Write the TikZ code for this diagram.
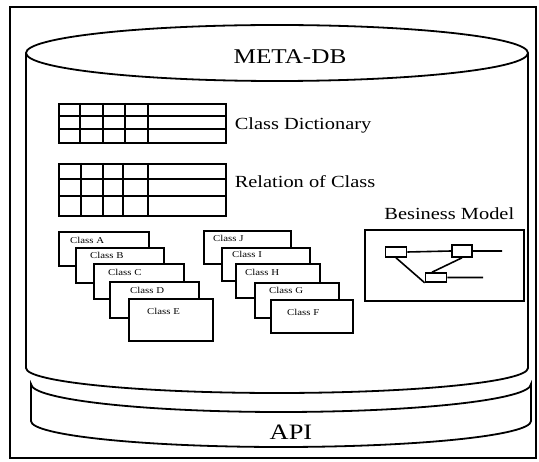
\documentclass[tikz,border=0pt]{standalone}
\usepackage{fontspec}
\setmainfont{Liberation Serif}[FakeStretch=1.2]
\usetikzlibrary{positioning}

\begin{document}
\begin{tikzpicture}[x=1pt,y=-1pt]
\tikzset{every node/.style={inner sep=0pt},
  db/.style={line width=1.8pt},
  grid/.style={draw,line width=1.6pt,minimum width=167pt,anchor=north west},
  gridline/.style={line width=1.6pt},
  classbox/.style={draw,fill=white,line width=1.6pt,anchor=north west},
  classtxt/.style={anchor=west,font=\fontsize{9}{9}\selectfont},
  bigtxt/.style={font=\fontsize{21}{21}\selectfont},
  midtxt/.style={font=\fontsize{17}{17}\selectfont},
  bmbox/.style={draw,line width=1.6pt,minimum width=21pt,minimum height=10pt}}
\useasboundingbox (0,0) rectangle (539,462);
\draw[line width=1.3pt] (10,7) rectangle (536,458);
\draw[db] (277,53) ellipse[x radius=251,y radius=28];
\draw[db] (26,53) -- (26,368) arc[start angle=180,end angle=0,x radius=251,y radius=25] -- (528,53);
\draw[db] (31,384) arc[start angle=180,end angle=0,x radius=250,y radius=28] -- (531,421)
  arc[start angle=0,end angle=180,x radius=250,y radius=26] -- cycle;
\node[bigtxt] (metadb) at (290,57) {META-DB};
\node[font=\fontsize{22}{22}\selectfont] (api) at (291,432) {API};
\node[grid,minimum height=39pt] (dict) at (58,103) {};
\foreach \c in {22,45,67,90}
  \draw[gridline] ([shift={(\c,0)}]dict.north west) -- ([shift={(\c,0)}]dict.south west);
\foreach \r in {13,26}
  \draw[gridline] ([shift={(0,\r)}]dict.north west) -- ([shift={(0,\r)}]dict.north east);
\node[midtxt,right=8pt of dict,yshift=-2pt] (dictlbl) {Class Dictionary};
\node[grid,minimum height=52pt] (rel) at (58,163) {};
\foreach \c in {23,45,65,90}
  \draw[gridline] ([shift={(\c,0)}]rel.north west) -- ([shift={(\c,0)}]rel.south west);
\foreach \r in {16,33}
  \draw[gridline] ([shift={(0,\r)}]rel.north west) -- ([shift={(0,\r)}]rel.north east);
\node[midtxt,anchor=west] (rellbl) at ([shift={(8,-8)}]rel.east) {Relation of Class};
\foreach \n/\x/\y/\w/\h/\dx/\dy/\t in {ca/58/231/90/34/12/9/A,cb/75/247/88/35/15/8/B,
    cc/93/263/90/35/15/9/C,cd/109/281/89/36/21/9/D,ce/128/298/84/42/19/13/E,
    cj/203/230/87/33/10/8/J,ci/221/247/88/33/11/7/I,ch/235/263/84/34/10/9/H,
    cg/254/282/84/35/15/8/G,cf/270/299/82/33/17/13/F}{
  \node[classbox,minimum width=\w pt,minimum height=\h pt] (\n) at (\x,\y) {};
  \node[classtxt] (\n-txt) at ([shift={(\dx,\dy)}]\n.north west) {Class \t};
}
\node[draw,line width=1.6pt,minimum width=159pt,minimum height=71pt,anchor=north west] (bmframe) at (364,229) {};
\node[midtxt,above=9pt of bmframe,xshift=5pt] (bmlbl) {Besiness Model};
\node[bmbox] (bm1) at (396,252) {};
\node[bmbox,minimum width=20pt,minimum height=12pt] (bm2) at (462,251) {};
\node[bmbox,minimum height=9pt] (bm3) at (436,277.5) {};
\coordinate (bm2out) at (502,251);
\coordinate (bm3out) at (483,277.5);
\draw[line width=1.6pt] (bm1.east) -- (bm2.west) (bm2.east) -- (bm2out) (bm3.east) -- (bm3out)
  (bm1.south) -- (bm3.south west) (bm2.south) -- ([xshift=-4pt]bm3.north);
\end{tikzpicture}
\end{document}
